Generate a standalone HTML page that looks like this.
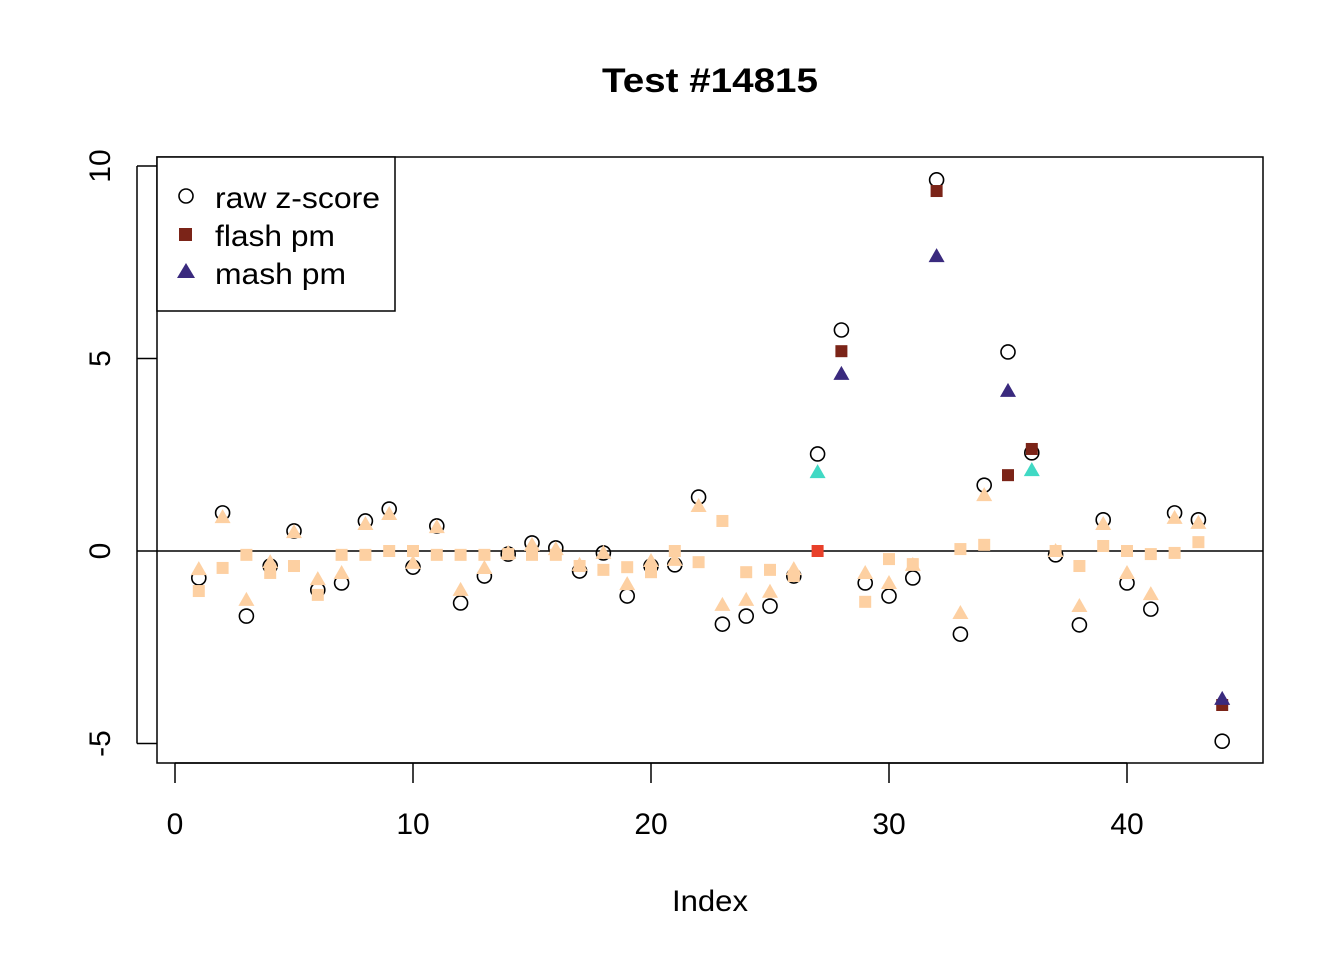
<!DOCTYPE html>
<html><head><meta charset="utf-8"><style>
body{margin:0;background:#fff}
svg{display:block;font-family:"Liberation Sans",Arial,sans-serif}
</style></head><body>
<svg id="chart" width="1344" height="960" xmlns="http://www.w3.org/2000/svg">
<text x="710" y="92" text-anchor="middle" font-size="34" font-weight="bold" textLength="216" lengthAdjust="spacingAndGlyphs">Test #14815</text>
<rect x="157" y="157" width="1106" height="606" fill="none" stroke="#000" stroke-width="1.5"/>
<g id="axes"></g>
<g id="marks"></g>
<text x="710" y="911" text-anchor="middle" font-size="30" textLength="76" lengthAdjust="spacingAndGlyphs">Index</text>
<g>
<rect x="157" y="157" width="238" height="154" fill="#fff" stroke="#000" stroke-width="1.5"/>
<circle cx="186" cy="196" r="7" fill="none" stroke="#000" stroke-width="1.6"/>
<text x="215" y="208" font-size="30" textLength="165" lengthAdjust="spacingAndGlyphs">raw z-score</text>
<rect x="179" y="228" width="13" height="13" fill="#7b2418"/>
<text x="215" y="246" font-size="30" textLength="120" lengthAdjust="spacingAndGlyphs">flash pm</text>
<polygon points="186,263 195,278 177,278" fill="#3a2a7e"/>
<text x="215" y="284" font-size="30" textLength="131" lengthAdjust="spacingAndGlyphs">mash pm</text>
</g>
</svg>
<script>
const rawZ=[-0.70,0.99,-1.69,-0.39,0.52,-1.01,-0.83,0.78,1.09,-0.42,0.65,-1.35,-0.65,-0.08,0.21,0.08,-0.52,-0.05,-1.17,-0.39,-0.36,1.40,-1.90,-1.69,-1.43,-0.65,2.52,5.74,-0.83,-1.17,-0.70,9.64,-2.16,1.71,5.17,2.55,-0.10,-1.92,0.81,-0.83,-1.51,0.99,0.81,-4.94];
const flashPm=[-1.04,-0.44,-0.10,-0.57,-0.39,-1.14,-0.10,-0.10,0,0,-0.10,-0.10,-0.10,-0.08,-0.10,-0.10,-0.39,-0.49,-0.42,-0.55,0,-0.29,0.78,-0.55,-0.49,-0.65,0,5.19,-1.32,-0.21,-0.34,9.35,0.05,0.16,1.97,2.65,0,-0.39,0.13,0,-0.08,-0.05,0.23,-4.0];
const mashPm=[-0.47,0.88,-1.27,-0.29,0.49,-0.73,-0.57,0.70,0.96,-0.31,0.62,-1.01,-0.44,-0.05,0.16,0.05,-0.36,-0.05,-0.86,-0.26,-0.23,1.17,-1.40,-1.27,-1.06,-0.47,2.05,4.60,-0.57,-0.83,-0.36,7.66,-1.61,1.45,4.16,2.10,0,-1.43,0.70,-0.57,-1.12,0.86,0.73,-3.84];
const flashSig={27:3,28:1,32:1,35:1,36:1,44:1};
const mashSig={27:2,28:1,32:1,35:1,36:2,44:1};
const xTicks=[0,10,20,30,40];
const yTicks=[-5,0,5,10];
const NS="http://www.w3.org/2000/svg";
const xs=v=>175+23.8*v, ys=v=>551-38.5*v;
const axes=document.getElementById('axes'), marks=document.getElementById('marks');
function mk(tag,at,parent){const e=document.createElementNS(NS,tag);for(const k in at)e.setAttribute(k,at[k]);parent.appendChild(e);return e;}
mk('line',{x1:xs(0),x2:xs(40),y1:763,y2:763,stroke:'#000','stroke-width':1.5},axes);
xTicks.forEach(t=>{mk('line',{x1:xs(t),x2:xs(t),y1:763,y2:783,stroke:'#000','stroke-width':1.5},axes);
 const tx=mk('text',{x:xs(t),y:834,'text-anchor':'middle','font-size':30},axes);tx.textContent=t;
 
 });
mk('line',{x1:137,x2:137,y1:ys(-5),y2:ys(10),stroke:'#000','stroke-width':1.5},axes);
yTicks.forEach(t=>{mk('line',{x1:137,x2:157,y1:ys(t),y2:ys(t),stroke:'#000','stroke-width':1.5},axes);
 const tx=mk('text',{x:110,y:ys(t),'text-anchor':'middle','font-size':30,transform:`rotate(-90 110 ${ys(t)})`},axes);tx.textContent=t;
 
 });
const zl=mk('line',{x1:157,x2:1263,y1:ys(0),y2:ys(0),stroke:'#000','stroke-width':1.5},axes);


const peach='#fdd0a2';
rawZ.forEach((v,i)=>{const c=mk('circle',{cx:xs(i+1),cy:ys(v),r:7,fill:'none',stroke:'#000','stroke-width':1.6},marks);
 
 });
flashPm.forEach((v,i)=>{const s=flashSig[i+1]||0;const col=s===1?'#7b2418':s===3?'#e8402a':peach;
 const r=mk('rect',{x:xs(i+1)-6,y:ys(v)-6,width:12,height:12,fill:col},marks);
 
 });
mashPm.forEach((v,i)=>{const s=mashSig[i+1]||0;const col=s===1?'#3a2a7e':s===2?'#40d9c4':peach;
 const x=xs(i+1),y=ys(v);
 const p=mk('polygon',{points:`${x},${y-8} ${x+8},${y+6} ${x-8},${y+6}`,fill:col},marks);
 
 });
</script>
</body></html>
